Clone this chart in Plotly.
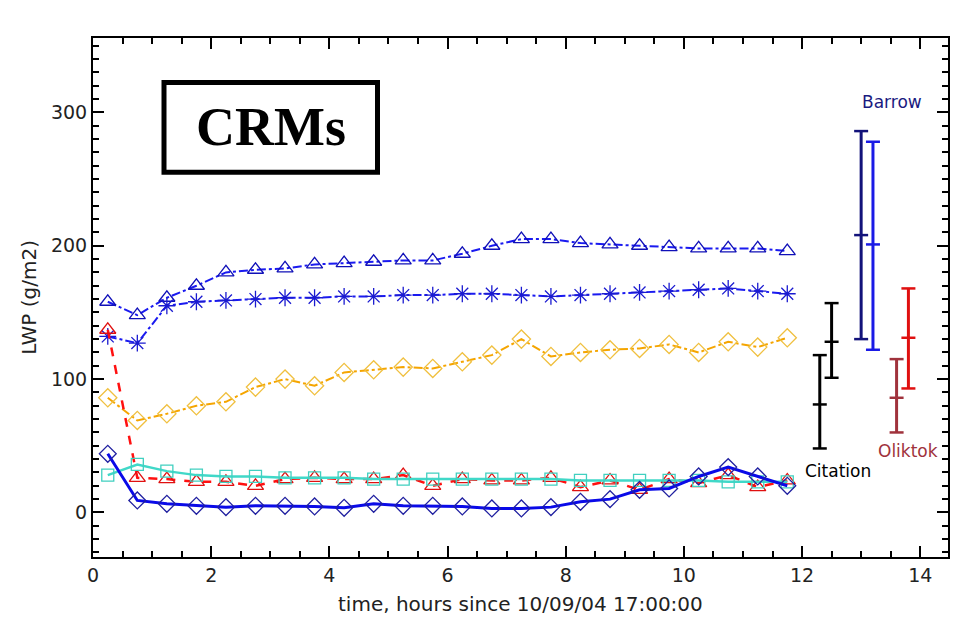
import plotly.graph_objects as go

# Model output times (hours since 10/09/04 17:00:00)
hours = [0.25, 0.75, 1.25, 1.75, 2.25, 2.75, 3.25, 3.75, 4.25, 4.75, 5.25, 5.75,
         6.25, 6.75, 7.25, 7.75, 8.25, 8.75, 9.25, 9.75, 10.25, 10.75, 11.25, 11.75]

# Liquid water path (g/m2) for each CRM run
lwp_triangle = [158, 148, 161, 170, 180, 182, 183, 186, 187, 188, 189, 189,
                194, 200, 205, 205, 202, 201, 200, 199, 198, 198, 198, 196]
lwp_star = [132, 127, 155, 158, 159, 160, 161, 161, 162, 162, 163, 163,
            164, 164, 163, 162, 163, 164, 165, 166, 167, 168, 166, 164]
lwp_orange = [86, 69, 74, 80, 83, 94, 100, 95, 105, 107, 109, 108,
              113, 118, 130, 117, 120, 122, 123, 126, 120, 128, 124, 131]
lwp_red = [137, 26, 25, 23, 23, 20, 25, 26, 25, 25, 28, 20,
           25, 24, 24, 26, 19, 24, 17, 25, 22, 28, 19, 24]
lwp_cyan = [28, 36, 31, 28, 27, 27, 26, 26, 26, 25, 25, 25,
            25, 25, 25, 25, 24, 24, 24, 24, 24, 23, 23, 23]
lwp_solid = [44, 9, 6.5, 5, 4, 5, 5, 4.5, 3.5, 6.5, 5, 5,
             4.5, 3, 3, 4, 8, 10, 17, 18, 27, 34, 27, 20]

# Observed ranges: position, low, mean, high, colour
obs_x = [12.3, 12.5, 13.0, 13.2, 13.6, 13.8]
obs_low = [48, 101, 130, 122, 60, 93]
obs_mid = [81, 128, 208, 201, 86, 131]
obs_high = [118, 157, 286, 278, 115, 168]
obs_color = ["#000000", "#000000", "#12127a", "#1a1ae6", "#a0323c", "#e01010"]

# Site labels: text, x, y, colour
site_text = ["Barrow", "Citation", "Oliktok"]
site_x = [13.53, 12.6, 13.8]
site_y = [308, 31, 46]
site_color = ["#1a1a80", "#000000", "#a0323c"]

# Plot-area geometry in pixels (used to place paper-referenced items)
PX_L, PX_R, PX_T, PX_B = 93, 948, 38, 557.5
PW, PH = PX_R - PX_L, PX_B - PX_T


def px(x):
    return (x - PX_L) / PW


def py(y):
    return (PX_B - y) / PH


fig = go.Figure()

series = [
    (lwp_triangle, "#1a1af0", "dashdot", 2, "triangle-up-open", 14, "#1010b8"),
    (lwp_star, "#1a1af0", "dashdot", 2, "asterisk-open", 14, "#1a1ad0"),
    (lwp_orange, "#f5a500", "dashdot", 2, "diamond-open", 14, "#f0c040"),
    (lwp_red, "#ff1010", "dash", 2.5, "triangle-up-open", 14, "#e01010"),
    (lwp_cyan, "#40d8c8", "solid", 2.5, "square-open", 12, "#40d0c0"),
    (lwp_solid, "#0a0ae8", "solid", 3, "diamond-open", 13, "#2020a0"),
]
for vals, lc, dash, lw, sym, ms, mc in series:
    fig.add_trace(go.Scatter(
        x=hours, y=vals, mode="lines+markers",
        line=dict(color=lc, width=lw, dash=dash),
        marker=dict(symbol=sym, size=ms, color=mc, line=dict(color=mc, width=1.3)),
        showlegend=False, hoverinfo="skip",
    ))

for xv, lo, mid, hi, col in zip(obs_x, obs_low, obs_mid, obs_high, obs_color):
    fig.add_trace(go.Scatter(
        x=[xv, xv, xv], y=[lo, mid, hi], mode="lines+markers",
        line=dict(color=col, width=3),
        marker=dict(symbol="line-ew", size=10, color=col, line=dict(color=col, width=2.5)),
        showlegend=False, hoverinfo="skip",
    ))

for t, xv, yv, col in zip(site_text, site_x, site_y, site_color):
    fig.add_annotation(x=xv, y=yv, text=t, showarrow=False,
                       xanchor="center", yanchor="middle",
                       font=dict(family="DejaVu Sans", size=17, color=col))

# "CRMs" label box
fig.add_shape(type="rect", xref="paper", yref="paper",
              x0=px(164), x1=px(377.5), y0=py(172.5), y1=py(82.5),
              line=dict(color="black", width=5), fillcolor="white")
fig.add_annotation(xref="paper", yref="paper", x=px(270.5), y=py(127),
                   xanchor="center", yanchor="middle",
                   text="<b>CRMs</b>", showarrow=False,
                   font=dict(family="Liberation Serif", size=54, color="black"))

# Axis titles
fig.add_annotation(xref="paper", yref="paper", x=px(520), y=py(605),
                   xanchor="center", yanchor="middle", showarrow=False,
                   text="time, hours since 10/09/04 17:00:00",
                   font=dict(family="DejaVu Sans", size=20, color="#222222"))
fig.add_annotation(xref="paper", yref="paper", x=px(29), y=py(298),
                   xanchor="center", yanchor="middle", showarrow=False,
                   textangle=-90, text="LWP (g/m2)",
                   font=dict(family="DejaVu Sans", size=20, color="#222222"))

axis_common = dict(
    showgrid=False, zeroline=False, showline=True, linecolor="black", linewidth=2,
    mirror="allticks", ticks="inside", ticklen=11, tickwidth=1.5, tickcolor="black",
    tickfont=dict(family="DejaVu Sans", size=19, color="#222222"),
    automargin=False,
)

fig.update_xaxes(
    range=[0, 14.47], dtick=2, tick0=0,
    minor=dict(dtick=0.5, ticks="inside", ticklen=6, tickwidth=1.5, tickcolor="black"),
    **axis_common,
)
fig.update_yaxes(
    range=[-33.4, 355.8], dtick=100, tick0=0,
    minor=dict(dtick=10, ticks="inside", ticklen=6, tickwidth=1.5, tickcolor="black"),
    **axis_common,
)

fig.update_layout(
    width=960, height=617,
    margin=dict(l=PX_L, r=960 - PX_R, t=PX_T, b=617 - PX_B),
    plot_bgcolor="white", paper_bgcolor="white",
)

fig.write_html("out.html")
